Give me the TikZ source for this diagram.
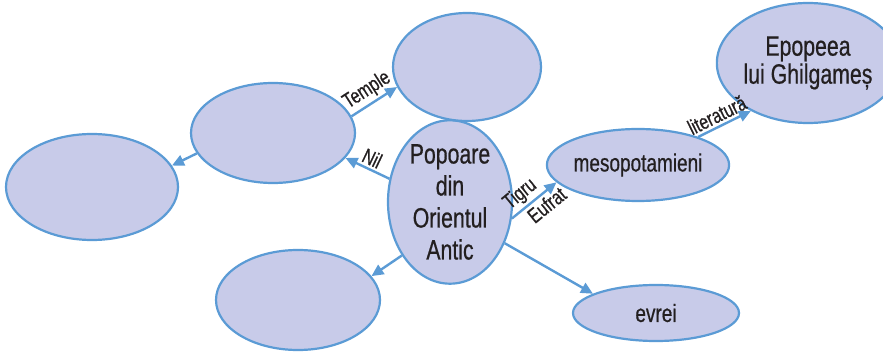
\documentclass[tikz,border=0pt]{standalone}
\usepackage{fontspec}
\setmainfont[FakeStretch=0.76,FakeBold=0.6]{Liberation Sans}
\usetikzlibrary{positioning}
\usetikzlibrary{shapes,shapes.geometric,arrows.meta}
\definecolor{lineblue}{HTML}{5B9BD5}
\definecolor{bubblefill}{HTML}{C8CBE9}
\definecolor{inktext}{HTML}{231F20}
\tikzstyle{bubble} = [ellipse, draw=lineblue, fill=bubblefill, line width=2.2pt, text=inktext, align=center, inner sep=0pt]
\tikzstyle{link} = [draw=lineblue, line width=2.4pt, -{Triangle[length=12pt,width=11pt]}]
\tikzstyle{tag} = [text=inktext, font=\fontsize{21}{21}\selectfont, sloped, inner sep=2.5pt]

\begin{document}
\begin{tikzpicture}[x=1pt,y=-1pt]
	\useasboundingbox (0,0) rectangle (883,355);
	% place nodes
	\node [bubble, minimum width=124pt, minimum height=162pt, font=\fontsize{28}{32}\selectfont] (P0) at (450,202) {Popoare\\din\\Orientul\\Antic};
	\node [bubble, minimum width=164pt, minimum height=100pt] (P1) at (273,133) {};
	\node [bubble, minimum width=148pt, minimum height=108pt] (P2) at (467,67)  {};
	\node [bubble, minimum width=172pt, minimum height=106pt] (P3) at (92,187)  {};
	\node [bubble, minimum width=164pt, minimum height=100pt] (P4) at (298,300) {};
	\node [bubble, minimum width=156pt, minimum height=72pt, font=\fontsize{25}{28}\selectfont]  (P5) at (638,165) {mesopotamieni};
	\node [bubble, minimum width=136pt, minimum height=120pt, font=\fontsize{28}{28}\selectfont] (P6) at (808,63)  {Epopeea\\lui Ghilgameș};
	\node [bubble, minimum width=166pt, minimum height=56pt, font=\fontsize{25}{28}\selectfont]  (P7) at (656,313) {evrei};

	% draw edges
	\path [link] (P0.159) -- node [tag, above] {Nil} (P1.341);
	\path [link] (P1.12)  -- node [tag, above] {Temple} (P2.196);
	\path [link] (P1.195) -- (P3.15);
	\path [link] (P0.228) -- (P4.18);
	\path [link] (P0.323) -- (P7.163);
	\path [link] (P0.345) -- node [tag, above, pos=0.38] {Tigru} node [tag, below, pos=0.62] {Eufrat} (P5.192);
	\path [link] (P5.25)  -- node [tag, above, pos=0.45] {literatură} (P6.220);
\end{tikzpicture}
\end{document}
